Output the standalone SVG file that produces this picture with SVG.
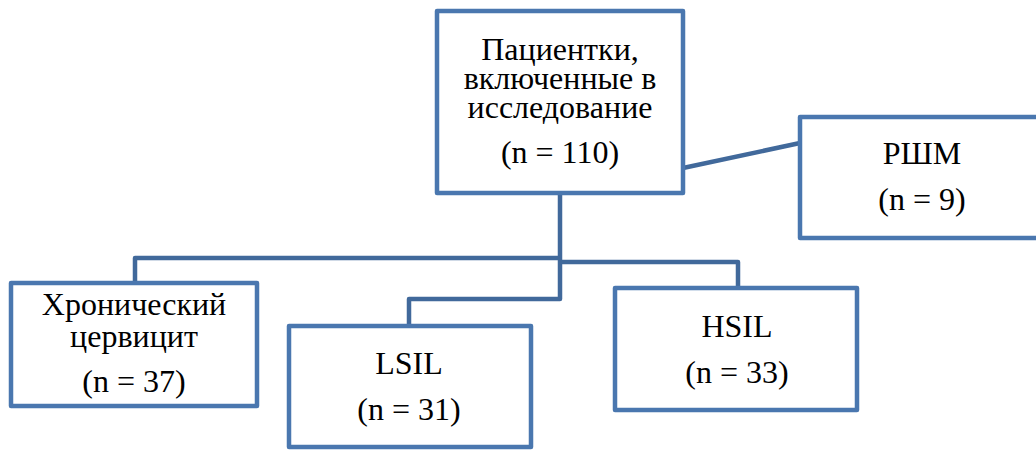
<svg xmlns="http://www.w3.org/2000/svg" width="1036" height="450" viewBox="0 0 1036 450">
<style>
.box{fill:#fff;stroke:#4a77af;stroke-width:4.5;stroke-linejoin:round}
.conn{fill:none;stroke:#41699b;stroke-width:4.5;stroke-linejoin:round}
.t{font-family:"Liberation Serif","Times New Roman",serif;font-size:32px;fill:#000;text-anchor:middle}
</style>
<rect width="1036" height="450" fill="#fff"/>
<g id="connectors">
<path class="conn" d="M560,193 V299 H409 V326"/>
<path class="conn" d="M560,258 H135 V283"/>
<path class="conn" d="M560,262 H738 V288"/>
<path class="conn" d="M683,168 L800,143"/>
</g>
<g id="n-total">
<rect class="box" x="437" y="11" width="246" height="182"/>
<text class="t" x="560" y="60">Пациентки,</text>
<text class="t" x="560" y="89">включенные в</text>
<text class="t" x="560" y="118">исследование</text>
<text class="t" x="560" y="163">(n = 110)</text>
</g>
<g id="n-rshm">
<rect class="box" x="800" y="117" width="245" height="121"/>
<text class="t" x="922" y="164">РШМ</text>
<text class="t" x="922" y="210">(n = 9)</text>
</g>
<g id="n-cerv">
<rect class="box" x="11" y="283" width="246" height="123"/>
<text class="t" x="134" y="315">Хронический</text>
<text class="t" x="134" y="347">цервицит</text>
<text class="t" x="134" y="392">(n = 37)</text>
</g>
<g id="n-lsil">
<rect class="box" x="289" y="326" width="242" height="121"/>
<text class="t" x="409" y="374">LSIL</text>
<text class="t" x="409" y="420">(n = 31)</text>
</g>
<g id="n-hsil">
<rect class="box" x="615" y="288" width="242" height="122"/>
<text class="t" x="737" y="337">HSIL</text>
<text class="t" x="737" y="383">(n = 33)</text>
</g>
</svg>
